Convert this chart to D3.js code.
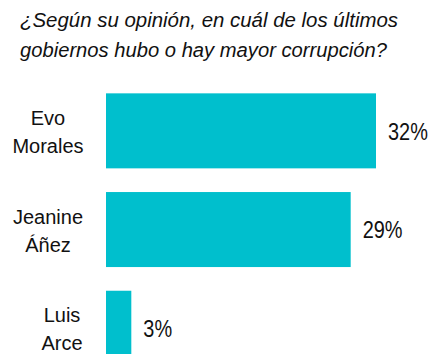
<!DOCTYPE html>
<html>
<head>
<meta charset="utf-8">
<script src="https://cdn.jsdelivr.net/npm/d3@7"></script>
<style>
  body { margin: 0; background: #fff; }
  svg text { font-family: "Liberation Sans", Arial, sans-serif; fill: #111; }
</style>
</head>
<body>
<div id="chart"></div>
<script>
const titleLines = ["¿Según su opinión, en cuál de los últimos", "gobiernos hubo o hay mayor corrupción?"];
const categories = [["Evo", "Morales"], ["Jeanine", "Áñez"], ["Luis", "Arce"]];
const values = [32, 29, 3];

const width = 441, height = 354;
const titleWidths = [378, 367];   // rendered line widths
const labelCenters = [48, 48, 62]; // category label x positions

const svg = d3.select("#chart").append("svg")
  .attr("width", width)
  .attr("height", height);

// title
svg.append("text")
  .attr("x", 20)
  .attr("y", 27)
  .style("font-size", "20.5px")
  .style("font-style", "italic")
  .selectAll("tspan")
  .data(titleLines)
  .enter()
  .append("tspan")
  .attr("x", 20)
  .attr("dy", (d, i) => i === 0 ? 0 : 30)
  .attr("textLength", (d, i) => titleWidths[i])
  .attr("lengthAdjust", "spacingAndGlyphs")
  .text(d => d);

const x = d3.scaleLinear()
  .domain([0, 32])
  .range([106, 376]);

const y = d3.scaleBand()
  .domain(d3.range(values.length))
  .range([81.5, 377.6])
  .paddingInner(0.24)
  .paddingOuter(0.12);

svg.append("g")
  .selectAll("rect")
  .data(values)
  .enter()
  .append("rect")
  .attr("x", x(0))
  .attr("y", (d, i) => y(i))
  .attr("width", d => x(d) - x(0))
  .attr("height", y.bandwidth())
  .attr("fill", "#00bfcd");

// value labels (condensed)
svg.append("g")
  .selectAll("text")
  .data(values)
  .enter()
  .append("text")
  .attr("transform", (d, i) => "translate(" + (x(d) + 12) + "," + (y(i) + y.bandwidth() / 2 + 8.7) + ") scale(0.83,1)")
  .style("font-size", "24px")
  .text(d => d + "%");

// category labels
const cat = svg.append("g")
  .selectAll("text")
  .data(categories)
  .enter()
  .append("text")
  .attr("text-anchor", "middle")
  .style("font-size", "20px")
  .attr("y", (d, i) => y(i) + y.bandwidth() / 2 - 5.8);

cat.each(function (d, i) {
  d3.select(this).selectAll("tspan")
    .data(d)
    .enter()
    .append("tspan")
    .attr("x", labelCenters[i])
    .attr("dy", (t, j) => j === 0 ? 0 : 28)
    .text(t => t);
});
</script>
</body>
</html>
